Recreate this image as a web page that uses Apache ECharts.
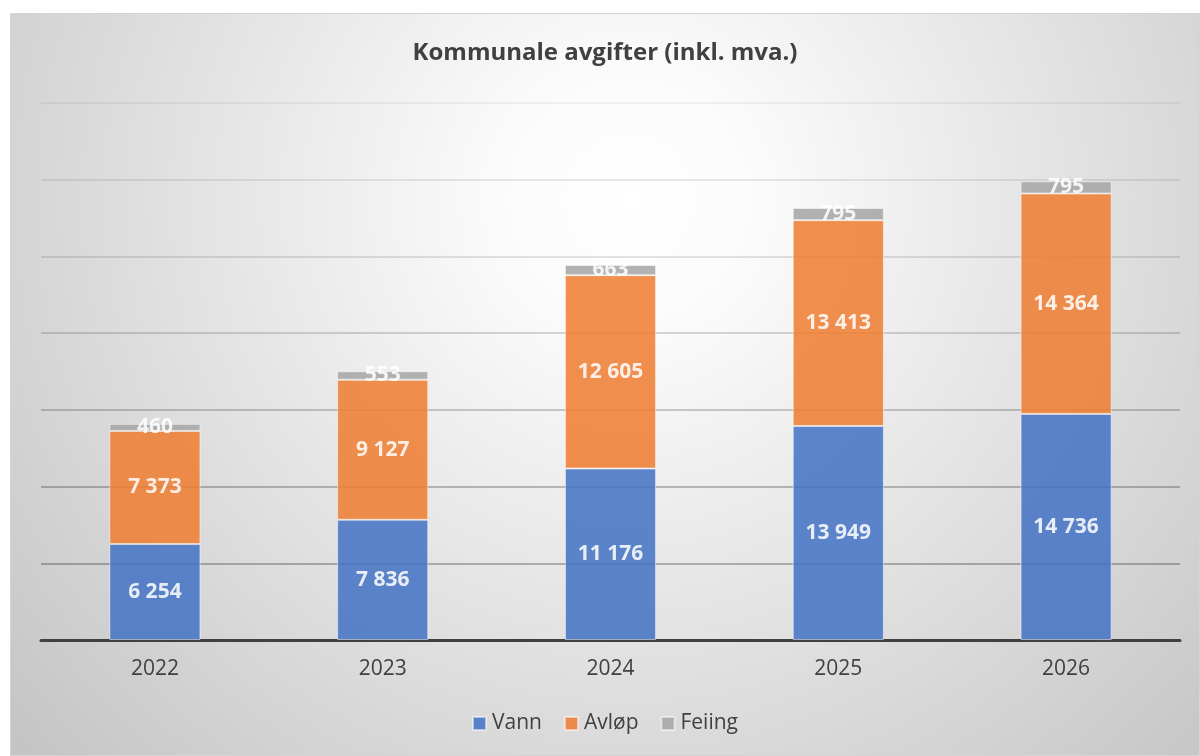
<!DOCTYPE html>
<html>
<head>
<meta charset="utf-8">
<script src="https://cdn.jsdelivr.net/npm/echarts@6/dist/echarts.min.js"></script>
<style>
  html, body { margin: 0; padding: 0; background: #fff; }
  #main {
    position: absolute;
    left: 10px;
    top: 13px;
    width: 1190px;
    height: 743px;
    box-sizing: border-box;
    border: 1px solid #d4d4d4;
  }
</style>
</head>
<body>
<div id="main"></div>
<script>
// data
const years = ['2022', '2023', '2024', '2025', '2026'];
const vann = [6254, 7836, 11176, 13949, 14736];
const avlop = [7373, 9127, 12605, 13413, 14364];
const feiing = [460, 553, 663, 795, 795];

const font = '"Open Sans", sans-serif';

// norsk tusenskille: 6 254
function fmt (v) {
  return String(v).replace(/\B(?=(\d{3})+(?!\d))/g, ' ');
}

function makeSeries (name, data, color) {
  return {
    name: name,
    type: 'bar',
    stack: 'sum',
    data: data,
    barWidth: '40%',
    itemStyle: {
      color: color,
      opacity: 0.86,
      borderColor: 'rgba(255,255,255,0.6)',
      borderWidth: 1
    },
    label: {
      show: true,
      position: 'inside',
      color: '#fff',
      fontFamily: font,
      fontWeight: 'bold',
      fontSize: 21,
      formatter: p => fmt(p.value)
    }
  };
}

const myChart = echarts.init(document.getElementById('main'));
const option = {
  backgroundColor: {
    type: 'radial',
    x: 0.52,
    y: 0.25,
    r: 1.15,
    colorStops: [
      { offset: 0, color: '#ffffff' },
      { offset: 0.15, color: '#fbfbfb' },
      { offset: 1, color: '#c2c2c2' }
    ]
  },
  animation: false,
  title: {
    text: 'Kommunale avgifter (inkl. mva.)',
    left: 'center',
    top: 22,
    textStyle: {
      fontFamily: font,
      fontWeight: 'bold',
      fontSize: 24,
      color: '#404040'
    }
  },
  legend: {
    bottom: 16,
    left: 'center',
    itemWidth: 13,
    itemHeight: 13,
    itemGap: 22,
    icon: 'rect',
    textStyle: {
      fontFamily: font,
      fontSize: 21,
      color: '#404040',
      padding: [0, 0, 0, 1]
    },
    data: ['Vann', 'Avløp', 'Feiing']
  },
  grid: {
    left: 30,
    right: 19,
    top: 89,
    bottom: 115
  },
  xAxis: {
    type: 'category',
    data: years,
    axisLine: { show: true, lineStyle: { color: '#404040', width: 3 } },
    axisTick: { show: false },
    axisLabel: {
      fontFamily: font,
      fontSize: 21,
      color: '#404040',
      margin: 19
    }
  },
  yAxis: {
    type: 'value',
    min: 0,
    max: 35000,
    interval: 5000,
    axisLabel: { show: false },
    axisLine: { show: false },
    axisTick: { show: false },
    // linjene blir lysere oppover
    splitLine: {
      lineStyle: {
        width: 1.5,
        color: ['rgba(0,0,0,0.35)', 'rgba(0,0,0,0.35)', 'rgba(0,0,0,0.32)', 'rgba(0,0,0,0.26)',
          'rgba(0,0,0,0.2)', 'rgba(0,0,0,0.15)', 'rgba(0,0,0,0.11)', 'rgba(0,0,0,0.07)']
      }
    }
  },
  series: [
    makeSeries('Vann', vann, '#4472C4'),
    makeSeries('Avløp', avlop, '#ED7D31'),
    makeSeries('Feiing', feiing, '#A5A5A5')
  ]
};
myChart.setOption(option);
</script>
</body>
</html>
